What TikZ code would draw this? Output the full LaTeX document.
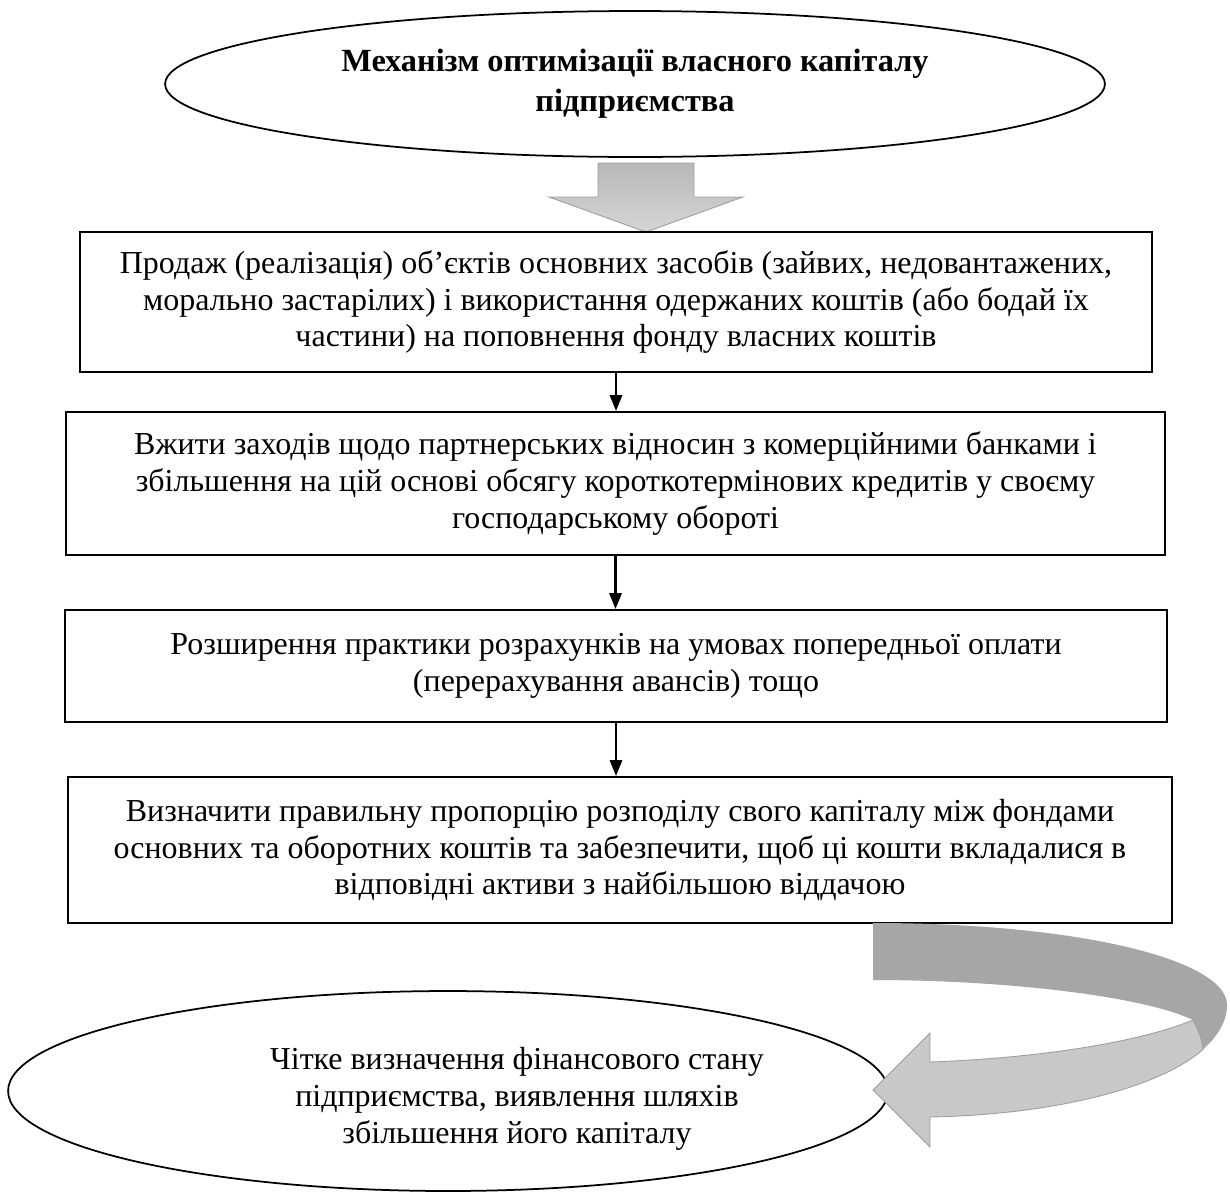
\documentclass[tikz,border=0pt]{standalone}
\usepackage{fontspec}
\setmainfont{Liberation Serif}
\usetikzlibrary{shapes.geometric,arrows.meta}
\definecolor{bandDark}{HTML}{A6A6A6}
\definecolor{bandLight}{HTML}{C8C8C8}
\definecolor{bandEdge}{HTML}{9E9E9E}
\begin{document}
\begin{tikzpicture}[x=0.02cm,y=-0.02cm,
  txt/.style={font=\fontsize{18.2}{21}\selectfont},
  box/.style={draw,line width=1.2pt,rectangle,inner sep=0pt,align=center,txt},
  oval/.style={draw,line width=1pt,ellipse,inner sep=0pt,align=center,txt},
  arr/.style={-{Triangle[length=9pt,width=7pt]},line width=1.2pt}]
\useasboundingbox (0,0) rectangle (1230,1191);
\fill[white] (0,0) rectangle (1230,1191);

% top ellipse
\node[oval,minimum width=18.8cm,minimum height=2.92cm,
      font={\fontsize{18.4}{22.6}\selectfont\bfseries}] (top) at (635,84)
  {Механізм оптимізації власного капіталу\\підприємства};

% block arrow
\path[top color=bandLight!92!black,bottom color=bandLight!75!white,draw=bandEdge,line width=0.5pt]
  (598,163) -- (694,163) -- (694,197) -- (743,197) -- (646,232) -- (549,197) -- (598,197) -- cycle;

% boxes
\node[box,minimum width=21.44cm,minimum height=2.8cm] (b1) at (616,302)
  {Продаж (реалізація) об’єктів основних засобів (зайвих, недовантажених,\\
   морально застарілих) і використання одержаних коштів (або бодай їх\\
   частини) на поповнення фонду власних коштів};
\node[box,minimum width=21.98cm,minimum height=2.86cm] (b2) at (615.5,483.5)
  {Вжити заходів щодо партнерських відносин з комерційними банками і\\
   збільшення на цій основі обсягу короткотермінових кредитів у своєму\\
   господарському обороті};
\node[box,minimum width=22.04cm,minimum height=2.24cm] (b3) at (616,666)
  {Розширення практики розрахунків на умовах попередньої оплати\\
   (перерахування авансів) тощо};
\node[box,minimum width=22.08cm,minimum height=2.92cm] (b4) at (620,850)
  {Визначити правильну пропорцію розподілу свого капіталу між фондами\\
   основних та оборотних коштів та забезпечити, щоб ці кошти вкладалися в\\
   відповідні активи з найбільшою віддачою};

\draw[arr] (b1.south) -- (b1.south |- b2.north);
\draw[arr] (b2.south) -- (b2.south |- b3.north);
\draw[arr] (b3.south) -- (b3.south |- b4.north);

% bottom ellipse and its text
\node[oval,minimum width=17.6cm,minimum height=4cm] (bot) at (448,1091) {};
\node[txt,align=center,inner sep=0pt] (bottxt) at (517,1099)
  {Чітке визначення фінансового стану\\підприємства, виявлення шляхів\\збільшення його капіталу};

% curved arrow: back band
\fill[bandDark]
  (873,923) .. controls (1080,923) and (1227,960) .. (1227,1005)
  .. controls (1227,1021) and (1218,1036) .. (1203,1049.5)
  .. controls (1201,1036) .. (1193,1020)
  .. controls (1140,995) and (1000,980) .. (873,980) -- cycle;
% curved arrow: front band with head
\path[fill=bandLight,draw=bandEdge,line width=0.5pt]
  (1193,1020) .. controls (1201,1036) .. (1203,1049.5)
  .. controls (1157,1089.4) and (1050,1114.75) .. (930,1117)
  -- (930,1147) -- (873,1090) -- (930,1033) -- (930,1062)
  .. controls (1040,1058) and (1140,1042) .. (1193,1020) -- cycle;
\end{tikzpicture}
\end{document}
